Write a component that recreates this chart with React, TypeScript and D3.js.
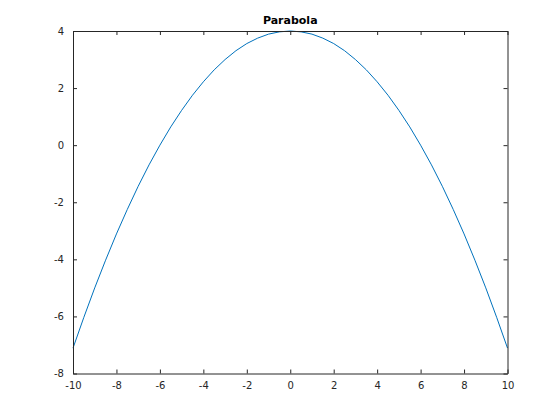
import React, { useEffect, useRef } from "react";
import * as d3 from "d3";

// values
const xs = [-10, -9.5, -9, -8.5, -8, -7.5, -7, -6.5, -6, -5.5, -5, -4.5, -4, -3.5, -3, -2.5, -2, -1.5, -1, -0.5, 0,
  0.5, 1, 1.5, 2, 2.5, 3, 3.5, 4, 4.5, 5, 5.5, 6, 6.5, 7, 7.5, 8, 8.5, 9, 9.5, 10];
const ys = [-7.11, -6.03, -5.0, -4.03, -3.11, -2.25, -1.44, -0.69, 0.0, 0.64, 1.22, 1.75, 2.22, 2.64, 3.0, 3.31, 3.56, 3.75, 3.89, 3.97, 4.0,
  3.97, 3.89, 3.75, 3.56, 3.31, 3.0, 2.64, 2.22, 1.75, 1.22, 0.64, 0.0, -0.69, -1.44, -2.25, -3.11, -4.03, -5.0, -6.03, -7.11];
const xTicks = [-10, -8, -6, -4, -2, 0, 2, 4, 6, 8, 10];
const yTicks = [-8, -6, -4, -2, 0, 2, 4];
const title = "Parabola";

export default function App() {
  const ref = useRef<SVGSVGElement>(null);

  useEffect(() => {
    const svg = d3.select(ref.current);
    svg.selectAll("*").remove();

    const left = 73, right = 507.5, top = 31, bottom = 373.5;
    const x = d3.scaleLinear().domain([-10, 10]).range([left, right]);
    const y = d3.scaleLinear().domain([-8, 4]).range([bottom, top]);
    const font = "DejaVu Sans, sans-serif";
    const axisColor = "#262626";

    svg.append("rect").attr("width", 560).attr("height", 420).attr("fill", "#fff");

    const data = xs.map((v, i) => [v, ys[i]] as [number, number]);
    const line = d3.line<[number, number]>().x(d => x(d[0])).y(d => y(d[1]));
    svg.append("path").datum(data)
      .attr("d", line)
      .attr("fill", "none")
      .attr("stroke", "#0072BD")
      .attr("stroke-width", 1);

    const fmt = (d: d3.NumberValue) => String(d);
    const styleAxis = (g: d3.Selection<SVGGElement, unknown, null, undefined>) => {
      g.select(".domain").attr("stroke", axisColor);
      g.selectAll(".tick line").attr("stroke", axisColor);
      g.selectAll("text").attr("fill", axisColor).style("font-family", font).style("font-size", "10px");
    };

    // bottom + top
    const gb = svg.append("g").attr("transform", `translate(0,${bottom})`)
      .call(d3.axisBottom(x).tickValues(xTicks).tickFormat(fmt).tickSizeInner(-4).tickSizeOuter(0).tickPadding(8));
    styleAxis(gb);
    const gt = svg.append("g").attr("transform", `translate(0,${top})`)
      .call(d3.axisTop(x).tickValues(xTicks).tickFormat(() => "").tickSizeInner(-4).tickSizeOuter(0));
    styleAxis(gt);

    // left + right
    const gl = svg.append("g").attr("transform", `translate(${left},0)`)
      .call(d3.axisLeft(y).tickValues(yTicks).tickFormat(fmt).tickSizeInner(-4).tickSizeOuter(0).tickPadding(9));
    styleAxis(gl);
    const gr = svg.append("g").attr("transform", `translate(${right},0)`)
      .call(d3.axisRight(y).tickValues(yTicks).tickFormat(() => "").tickSizeInner(-4).tickSizeOuter(0));
    styleAxis(gr);

    svg.append("text")
      .attr("x", (left + right) / 2)
      .attr("y", 24)
      .attr("text-anchor", "middle")
      .attr("fill", "#000")
      .style("font-family", font)
      .style("font-size", "11px")
      .style("font-weight", "bold")
      .text(title);
  }, []);

  return (
    <div style={{ position: "absolute", left: 0, top: 0 }}>
      <svg ref={ref} width={560} height={420} style={{ display: "block" }} />
    </div>
  );
}
